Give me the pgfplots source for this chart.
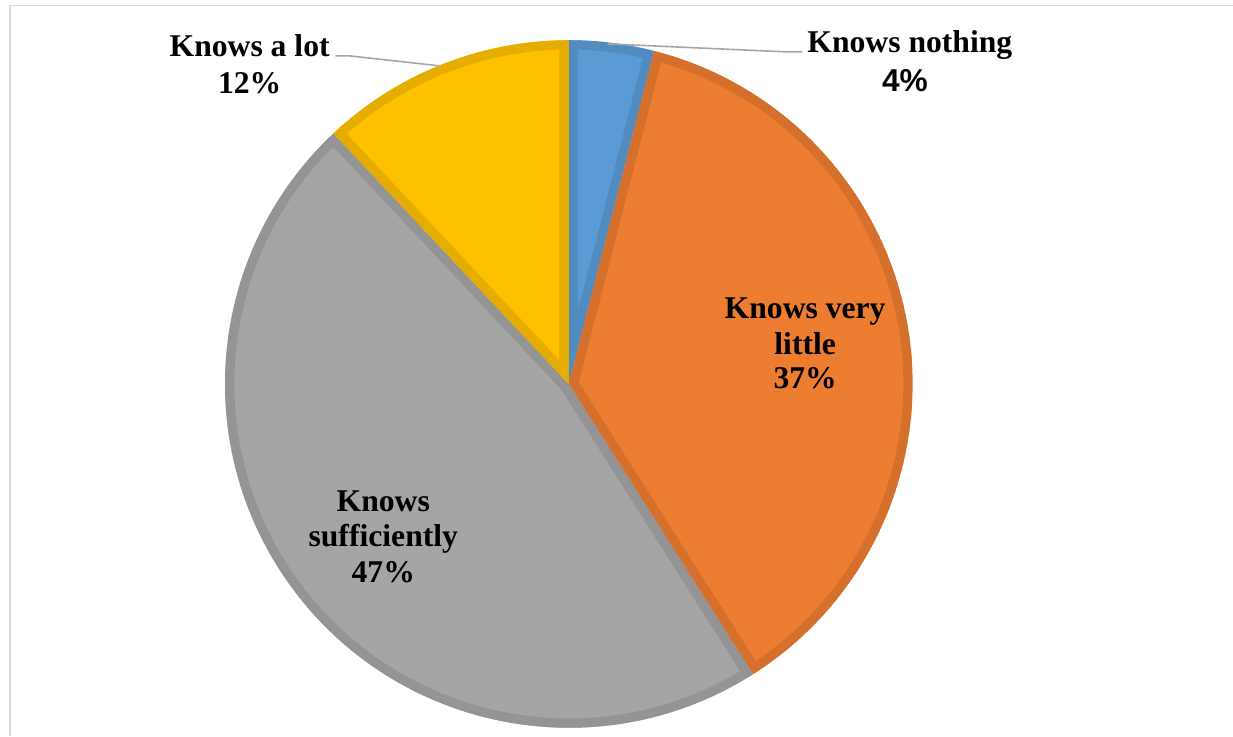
\documentclass[border=0pt]{standalone}
\usepackage{pgfplots}
\pgfplotsset{compat=1.18}
\usepackage{pgfplotstable}
\usepackage{fontspec}
\setmainfont{Liberation Serif}
\newfontfamily\sansbold{Liberation Sans}

\definecolor{pie0}{RGB}{91,155,213}
\definecolor{pie1}{RGB}{237,125,49}
\definecolor{pie2}{RGB}{165,165,165}
\definecolor{pie3}{RGB}{255,192,0}
\definecolor{leader}{RGB}{166,166,166}
\definecolor{frame}{RGB}{217,217,217}

\pgfplotstableread{
idx value
0 4
1 37
2 47
3 12
}\piedata

\begin{document}
\gdef\cumsum{0}
\foreach \i in {0,...,3}{%
  \pgfplotstablegetelem{\i}{value}\of\piedata
  \pgfmathsetmacro\angA{90-3.6*\cumsum}%
  \pgfmathsetmacro\newcum{\cumsum+\pgfplotsretval}%
  \pgfmathsetmacro\angB{90-3.6*\newcum}%
  \expandafter\xdef\csname pa\i\endcsname{\angA}%
  \expandafter\xdef\csname pb\i\endcsname{\angB}%
  \xdef\cumsum{\newcum}%
}%
\begin{tikzpicture}
\begin{axis}[
  width=924.75pt, height=553.5pt, scale only axis,
  xmin=0, xmax=1233, ymin=0, ymax=738, y dir=reverse,
  hide axis, clip=false,
]
\coordinate (bl) at (axis cs:0,738);
\coordinate (tr) at (axis cs:1233,0);
\draw[frame, line width=1.3pt] (axis cs:7,738) -- (axis cs:7,5.5) -- (axis cs:1233,5.5);

\pgfplotsinvokeforeach{0,...,3}{
  \begin{scope}
    \clip (axis cs:567,385) -- ++(\csname pa#1\endcsname:258.5pt)
      arc[start angle=\csname pa#1\endcsname, end angle=\csname pb#1\endcsname, radius=258.5pt] -- cycle;
    \fill[pie#1] (axis cs:567,385) -- ++(\csname pa#1\endcsname:258.5pt)
      arc[start angle=\csname pa#1\endcsname, end angle=\csname pb#1\endcsname, radius=258.5pt] -- cycle;
    \draw[pie#1!90!black, line width=14pt] (axis cs:567,385) -- ++(\csname pa#1\endcsname:258.5pt)
      arc[start angle=\csname pa#1\endcsname, end angle=\csname pb#1\endcsname, radius=258.5pt] -- cycle;
  \end{scope}
}

\draw[leader, line width=1.2pt] (axis cs:333,56) -- (axis cs:347,56) -- (axis cs:437,66);
\draw[leader, line width=1.2pt] (axis cs:801,52) -- (axis cs:785,52) -- (axis cs:606,44);

\tikzset{lbl/.style={anchor=base, inner sep=0pt, font=\fontsize{23.8}{27}\selectfont\bfseries}}
\node[lbl] at (axis cs:247,57) {Knows a lot};
\node[lbl] at (axis cs:247,94) {12\%};
\node[lbl] at (axis cs:909,53) {Knows nothing};
\node[lbl, font=\fontsize{23.8}{27}\selectfont\sansbold\bfseries] at (axis cs:904,92) {4\%};
\node[lbl] at (axis cs:804,319) {Knows very};
\node[lbl] at (axis cs:804,355) {little};
\node[lbl] at (axis cs:804,390) {37\%};
\node[lbl] at (axis cs:381,513) {Knows};
\node[lbl] at (axis cs:381,548) {sufficiently};
\node[lbl] at (axis cs:381,584) {47\%};
\end{axis}
\pgfresetboundingbox
\path[use as bounding box] (bl) rectangle (tr);
\end{tikzpicture}
\end{document}
